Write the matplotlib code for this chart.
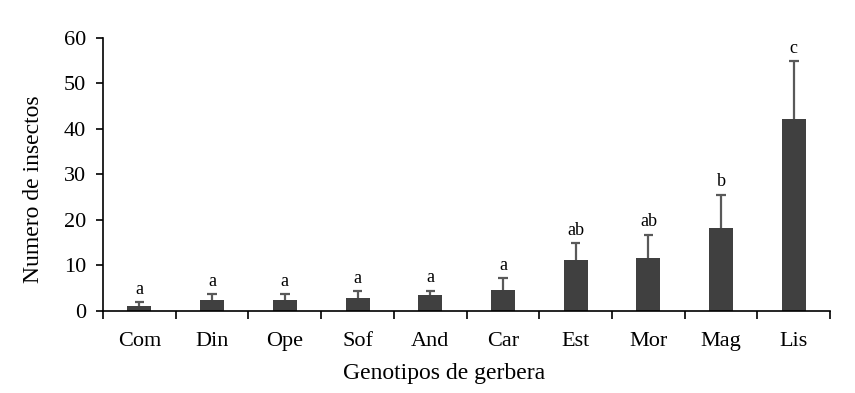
import matplotlib.pyplot as plt
import numpy as np

plt.rcParams['font.family'] = ['Liberation Serif', 'DejaVu Serif']

# datos
genotipos = ['Com', 'Din', 'Ope', 'Sof', 'And', 'Car', 'Est', 'Mor', 'Mag', 'Lis']
medias = [1.2, 2.5, 2.5, 2.9, 3.6, 4.7, 11.1, 11.6, 18.3, 42.2]
errores = [0.7, 1.2, 1.2, 1.4, 0.9, 2.5, 3.8, 5.2, 7.3, 12.7]
letras = ['a', 'a', 'a', 'a', 'a', 'a', 'ab', 'ab', 'b', 'c']

fig = plt.figure(figsize=(8.55, 3.93), dpi=100)
ax = fig.add_axes([0.1205, 0.2087, 0.8505, 0.6946])

x = np.arange(len(genotipos))
tope = np.array(medias) + np.array(errores)
ax.bar(x, medias, width=0.33, color='#404040', zorder=2)
# barras de error solo hacia arriba
ax.vlines(x, medias, tope, color='#595959', linewidth=1.6, zorder=1)
ax.hlines(tope, x - 0.065, x + 0.065, color='#595959', linewidth=1.6, zorder=1)

for xi, t, l in zip(x, tope, letras):
    ax.annotate(l, (xi, t), xytext=(0, 3), textcoords='offset points',
                ha='center', va='bottom', fontsize=13)

ax.set_xlim(-0.5, len(genotipos) - 0.5)
ax.set_ylim(0, 60)
ax.set_yticks(np.arange(0, 61, 10))
ax.set_xticks(np.arange(-0.5, len(genotipos), 1))
ax.set_xticklabels([])
ax.set_xticks(x, minor=True)
ax.set_xticklabels(genotipos, minor=True)
ax.tick_params(axis='x', which='major', direction='out', length=6, width=1.2)
ax.tick_params(axis='x', which='minor', length=0, labelsize=16, pad=15)
ax.tick_params(axis='y', direction='out', length=5, width=1.2, labelsize=16, pad=7)

for s in ['top', 'right']:
    ax.spines[s].set_visible(False)
for s in ['left', 'bottom']:
    ax.spines[s].set_linewidth(1.2)

ax.set_xlabel('Genotipos de gerbera', fontsize=17)
ax.set_ylabel('Numero de insectos', fontsize=17)
ax.xaxis.set_label_coords(0.469, -0.19)
ax.yaxis.set_label_coords(-0.081, 0.445)

plt.savefig('out.png', dpi=100)
